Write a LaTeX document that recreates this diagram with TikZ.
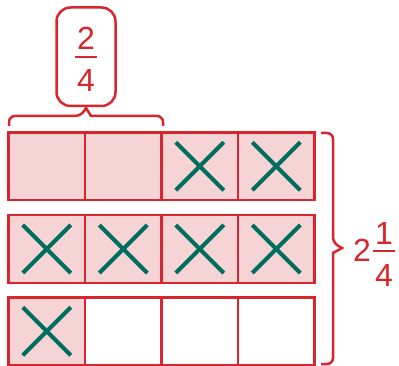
\documentclass[tikz,border=0pt]{standalone}
\usepackage{fontspec}
\setmainfont{Liberation Sans}
\definecolor{bred}{HTML}{D9262E}
\definecolor{bpink}{HTML}{F6D3D4}
\definecolor{bgreen}{HTML}{006E5E}
\begin{document}
\begin{tikzpicture}[x=1pt,y=-1pt,
  cell/.style={draw=bred,line width=2.5pt,minimum width=76.5pt,minimum height=67.75pt,inner sep=0pt,outer sep=0pt},
  shaded/.style={cell,fill=bpink},
  plain/.style={cell,fill=white},
  cross/.style={draw=bgreen,line width=4pt},
  brace/.style={draw=bred,line width=2.5pt,rounded corners=6pt},
  num/.style={text=bred,font=\fontsize{32}{32}\selectfont,inner sep=0pt},
  bar/.style={draw=bred,line width=1.6pt}]
\useasboundingbox (0,0) rectangle (399,366);
% rows
\node[shaded] (a1) at (46.75,166.25) {};
\node[shaded] (a2) at (123.25,166.25) {};
\node[shaded] (a3) at (199.75,166.25) {};
\node[shaded] (a4) at (276.25,166.25) {};
\node[shaded] (b1) at (46.75,249) {};
\node[shaded] (b2) at (123.25,249) {};
\node[shaded] (b3) at (199.75,249) {};
\node[shaded] (b4) at (276.25,249) {};
\node[shaded] (c1) at (46.75,331.25) {};
\node[plain] (c2) at (123.25,331.25) {};
\node[plain] (c3) at (199.75,331.25) {};
\node[plain] (c4) at (276.25,331.25) {};
% crosses
\foreach \n in {a3,a4,b1,b2,b3,b4,c1}{
  \draw[cross] ([shift={(-24,-24)}]\n.center) -- ([shift={(24,24)}]\n.center);
  \draw[cross] ([shift={(24,-24)}]\n.center) -- ([shift={(-24,24)}]\n.center);
}
% top box
\node[draw=bred,line width=2.5pt,rounded corners=14pt,minimum width=59pt,minimum height=98.5pt,inner sep=0pt] (box) at (86,56.75) {};
\node[num] (t2) at (86,38.5) {2};
\node[num] (t4) at (86,80) {4};
\coordinate (tb1) at (75,57);
\coordinate (tb2) at (97,57);
\draw[bar] (tb1) -- (tb2);
% top brace
\coordinate (tip) at (86,108);
\draw[brace] (9,126) -- (9,116) -- (81,116) [sharp corners] -- (tip) -- (91,116) [rounded corners=6pt] -- (163,116) -- (163,126);
% right brace
\coordinate (rtip) at (342,248);
\draw[brace] (321,133) -- (333,133) -- (333,243) [sharp corners] -- (rtip) -- (333,253) [rounded corners=6pt] -- (333,364) -- (321,364);
% mixed number
\node[num] (w2) at (362,250) {2};
\node[num] (f1) at (384,233) {1};
\node[num] (f4) at (384,275) {4};
\coordinate (fb1) at (373,251);
\coordinate (fb2) at (395,251);
\draw[bar] (fb1) -- (fb2);
\end{tikzpicture}
\end{document}
